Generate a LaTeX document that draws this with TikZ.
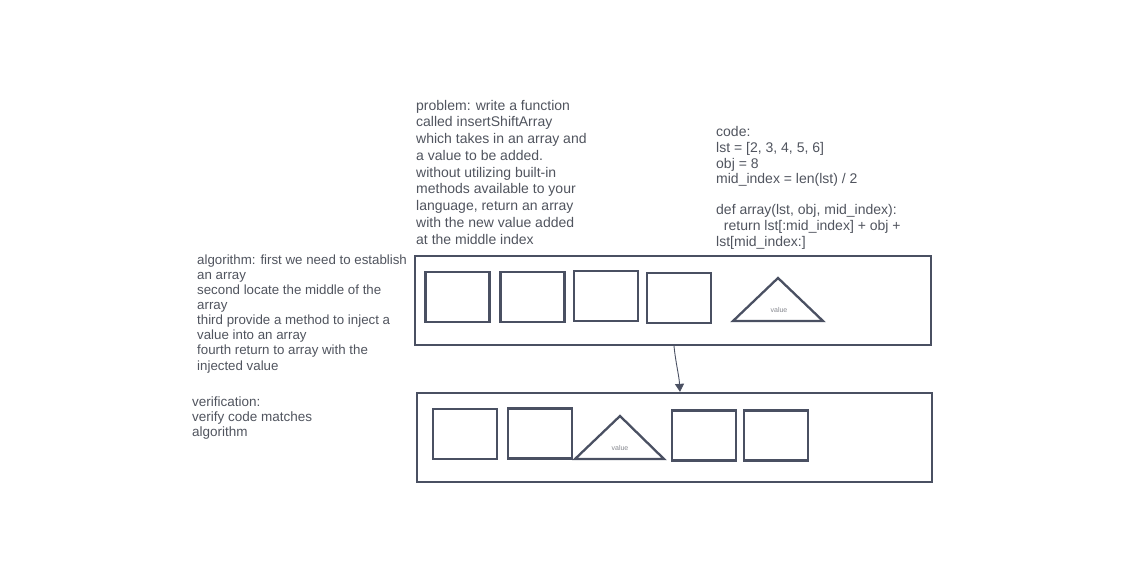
\documentclass[tikz,border=0pt]{standalone}
\usepackage{fontspec}
\setmainfont{Liberation Sans}
\usetikzlibrary{arrows.meta}
\definecolor{ink}{RGB}{74,80,98}
\definecolor{txt}{RGB}{80,84,94}
\begin{document}
\begin{tikzpicture}[x=1pt,y=-1pt,
  note/.style={anchor=base west,inner sep=0pt,align=left,text=txt},
  cell/.style={draw=ink,line width=2.3pt,minimum width=64pt,minimum height=50pt,inner sep=0pt},
  frame/.style={draw=ink,line width=2.3pt,minimum width=516pt,minimum height=89pt,inner sep=0pt},
  tri/.style={draw=ink,line width=2.3pt,line join=miter},
  tiny/.style={inner sep=0pt,text=txt!70,font=\fontsize{7}{8}\selectfont}]
\useasboundingbox (0,0) rectangle (1124,581);

% text blocks (anchored at the baseline of their last line)
\node[note,font=\fontsize{14}{16.75}\selectfont] (problem) at (416,244) {problem: write a function\\called insertShiftArray\\which takes in an array and\\a value to be added.\\without utilizing built-in\\methods available to your\\language, return an array\\with the new value added\\at the middle index};
\node[note,font=\fontsize{14}{15.6}\selectfont] (code) at (716,246) {code:\\lst = [2, 3, 4, 5, 6]\\obj = 8\\mid\_index = len(lst) / 2\\[15.6pt]def array(lst, obj, mid\_index):\\\ \ return lst[:mid\_index] + obj +\\lst[mid\_index:]};
\node[note,font=\fontsize{13.3}{15.1}\selectfont] (algo) at (197,370) {algorithm: first we need to establish\\an array\\second locate the middle of the\\array\\third provide a method to inject a\\value into an array\\fourth return to array with the\\injected value};
\node[note,font=\fontsize{13.5}{14.6}\selectfont] (verif) at (192,436) {verification:\\verify code matches\\algorithm};

% top array
\node[frame] (top) at (673,300.5) {};
\node[cell] (t1) at (457.5,297) {};
\node[cell] (t2) at (532.5,297) {};
\node[cell] (t3) at (606,296) {};
\node[cell] (t4) at (679,298) {};
\coordinate (ta) at (778,278);
\coordinate (tb) at (823,321);
\coordinate (tc) at (733,321);
\draw[tri] (ta) -- (tb) -- (tc) -- cycle;
\node[tiny] (tv) at (779,310) {value};

% bottom array
\node[frame,minimum width=515pt] (bot) at (674.5,437.5) {};
\node[cell] (b1) at (465,434) {};
\node[cell] (b2) at (540,433.5) {};
\coordinate (ba) at (620,416);
\coordinate (bb) at (664,459);
\coordinate (bc) at (575,459);
\draw[tri] (ba) -- (bb) -- (bc) -- cycle;
\node[tiny] (bv) at (620,448) {value};
\node[cell] (b3) at (704,435.5) {};
\node[cell] (b4) at (776,435.5) {};

% connector
\draw[ink,line width=0.9pt,-{Triangle[length=8pt,width=9pt]}]
  ([xshift=1pt]top.south) .. controls (676,365) and (679,375) .. ([xshift=5.5pt]bot.north);
\end{tikzpicture}
\end{document}
